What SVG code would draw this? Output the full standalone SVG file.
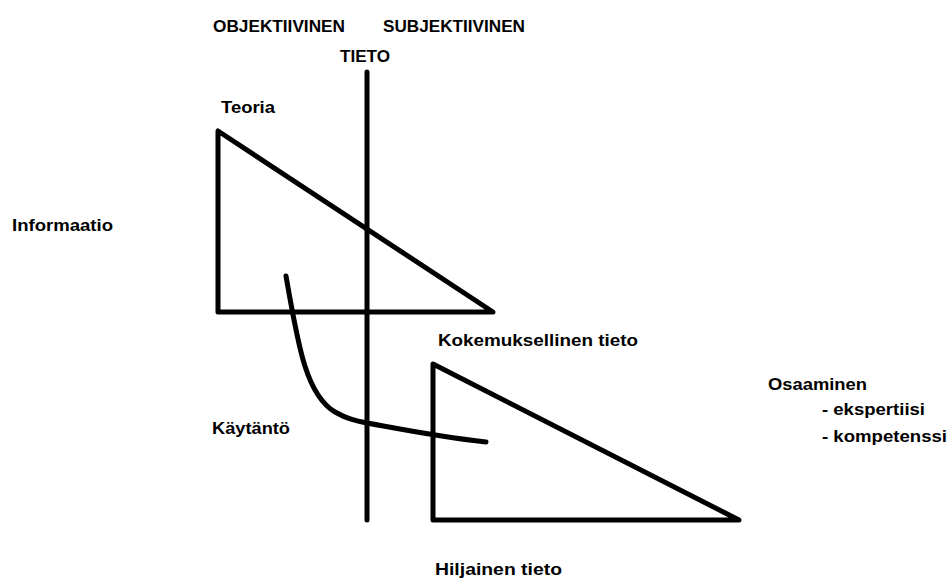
<svg xmlns="http://www.w3.org/2000/svg" width="949" height="580" viewBox="0 0 949 580">
<style>
.t{font-family:"Liberation Sans",Arial,sans-serif;font-weight:bold;font-size:17px;fill:#000}
.s{fill:none;stroke:#000;stroke-width:5;stroke-linejoin:round;stroke-linecap:round}
</style>
<rect width="949" height="580" fill="#fff"/>
<g id="labels">
<text class="t" x="213" y="32" textLength="132" lengthAdjust="spacingAndGlyphs">OBJEKTIIVINEN</text>
<text class="t" x="383" y="32" textLength="142" lengthAdjust="spacingAndGlyphs">SUBJEKTIIVINEN</text>
<text class="t" x="340" y="62" textLength="50" lengthAdjust="spacingAndGlyphs">TIETO</text>
<text class="t" x="12" y="231" textLength="101" lengthAdjust="spacingAndGlyphs">Informaatio</text>
</g>
<g id="axis">
<line class="s" x1="367" y1="72" x2="367" y2="520" stroke-linecap="butt"/>
</g>
<g id="teoria">
<text class="t" x="221" y="113" textLength="54" lengthAdjust="spacingAndGlyphs">Teoria</text>
<path class="s" d="M218,131 L218,312 L493,312 Z"/>
</g>
<g id="kokemuksellinen">
<text class="t" x="438" y="346" textLength="200" lengthAdjust="spacingAndGlyphs">Kokemuksellinen tieto</text>
<path class="s" d="M433,364 L433,520 L739,520 Z"/>
<text class="t" x="435" y="575" textLength="127" lengthAdjust="spacingAndGlyphs">Hiljainen tieto</text>
</g>
<g id="kaytanto">
<text class="t" x="212" y="434" textLength="78" lengthAdjust="spacingAndGlyphs">Käytäntö</text>
</g>
<g id="osaaminen">
<text class="t" x="768" y="390" textLength="99" lengthAdjust="spacingAndGlyphs">Osaaminen</text>
<text class="t" x="822" y="415" textLength="103" lengthAdjust="spacingAndGlyphs">- ekspertiisi</text>
<text class="t" x="822" y="442" textLength="125" lengthAdjust="spacingAndGlyphs">- kompetenssi</text>
</g>
<g id="connectors">
<path class="s" d="M286,276 C298,345 306,395 335,412 C347,419 357,421 367,423 C400,429 440,437 486,442"/>
</g>
</svg>
